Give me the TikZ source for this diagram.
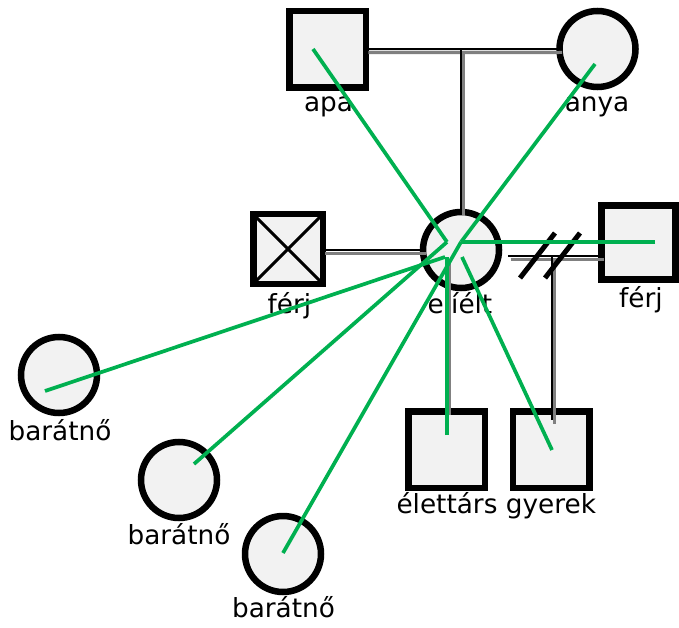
\documentclass[tikz,border=0pt]{standalone}
\usepackage{fontspec}
\setmainfont{DejaVu Sans}
\definecolor{emogreen}{RGB}{0,176,80}
\definecolor{nodefill}{RGB}{242,242,242}
\begin{document}
\begin{tikzpicture}[x=1pt,y=-1pt,
  sq/.style={rectangle,draw=black,line width=6.5pt,fill=nodefill,minimum size=76.5pt,inner sep=0pt,outer sep=0pt},
  ci/.style={circle,draw=black,line width=6.5pt,fill=nodefill,minimum size=76pt,inner sep=0pt,outer sep=0pt},
  lbl/.style={anchor=base,inner sep=0pt,font=\fontsize{26.3}{31}\selectfont},
  shad/.style={draw=black!50,line width=3pt,transform canvas={shift={(2.5,3.5)}}},
  rel/.style={draw=black,line width=2pt},
  emo/.style={draw=emogreen,line width=3.7pt},
  slashline/.style={draw=black,line width=5pt},
  crossline/.style={draw=black,line width=3pt}]
\useasboundingbox (0,0) rectangle (679,628);

% nodes
\node[sq] (apa) at (327.7,49.2) {};
\node[ci] (anya) at (597.5,49) {};
\node[ci] (elielt) at (461,250) {};
\node[sq,minimum size=69.5pt] (ferjL) at (288,249) {};
\node[sq,minimum size=74pt] (ferjR) at (638.5,242.5) {};
\node[sq] (elettars) at (446.5,449.5) {};
\node[sq] (gyerek) at (551,449.5) {};
\node[ci] (b1) at (59,375) {};
\node[ci] (b2) at (179,480) {};
\node[ci] (b3) at (283,554) {};

\draw[crossline] (ferjL.north west) -- (ferjL.south east);
\draw[crossline] (ferjL.north east) -- (ferjL.south west);

% labels
\node[lbl] (apaL) at (328.5,112) {apa};
\node[lbl] (anyaL) at (597,112) {anya};
\node[lbl] (ferjLL) at (289.5,313) {férj};
\node[lbl] (elieltL) at (460,313) {elíélt};
\node[lbl] (ferjRL) at (641,307) {férj};
\node[lbl] (elettarsL) at (447,513) {élettárs};
\node[lbl] (gyerekL) at (551,513) {gyerek};
\node[lbl] (b1L) at (60,440) {barátnő};
\node[lbl] (b2L) at (179,544) {barátnő};
\node[lbl] (b3L) at (283.5,617) {barátnő};

% relationship coordinates
\coordinate (par) at (461,49);
\coordinate (mL) at (ferjL.east |- 0,250);
\coordinate (eL) at (elielt.west |- 0,250);
\coordinate (r1) at (508,256);
\coordinate (r2) at (ferjR.west |- r1);
\coordinate (c1) at (552,256);
\coordinate (c2) at (552,420);
\coordinate (p1) at (447,258);
\coordinate (p2) at (elettars.north -| p1);

% shadows
\draw[shad] (apa.east) -- (anya.west);
\draw[shad] (par) -- (elielt.north);
\draw[shad] (mL) -- (eL);
\draw[shad] (r1) -- (r2);
\draw[shad] (c1) -- (c2);
\draw[shad] (p1) -- (p2);
% lines
\draw[rel] (apa.east) -- (anya.west);
\draw[rel] (par) -- (elielt.north);
\draw[rel] (mL) -- (eL);
\draw[rel] (r1) -- (r2);
\draw[rel] (c1) -- (c2);
\draw[rel] (p1) -- (p2);
\coordinate (s1a) at (520,278);
\coordinate (s1b) at (555,233);
\coordinate (s2a) at (545,278);
\coordinate (s2b) at (580,233);
\draw[slashline] (s1a) -- (s1b);
\draw[slashline] (s2a) -- (s2b);

% emotional lines
\coordinate (eA) at (447,242);
\coordinate (eB) at (461,242);
\coordinate (eC) at (445,257);
\coordinate (eD) at (447,257);
\coordinate (eE) at (462,257);
\coordinate (tApa) at (313,49);
\coordinate (tAnya) at (595,64);
\coordinate (tFerj) at (655,242);
\coordinate (tB1) at (45,391);
\coordinate (tB2) at (194,464);
\coordinate (tB3) at (283,553);
\coordinate (tEl) at (447,435);
\coordinate (tGy) at (552,450);
\draw[emo] (tApa) -- (eA);
\draw[emo] (tAnya) -- (eB);
\draw[emo] (tFerj) -- (eB);
\draw[emo] (tB1) -- (eC);
\draw[emo] (tB2) -- (eA);
\draw[emo] (tB3) -- (eB);
\draw[emo] (tEl) -- (eD);
\draw[emo] (tGy) -- (eE);
\end{tikzpicture}
\end{document}
